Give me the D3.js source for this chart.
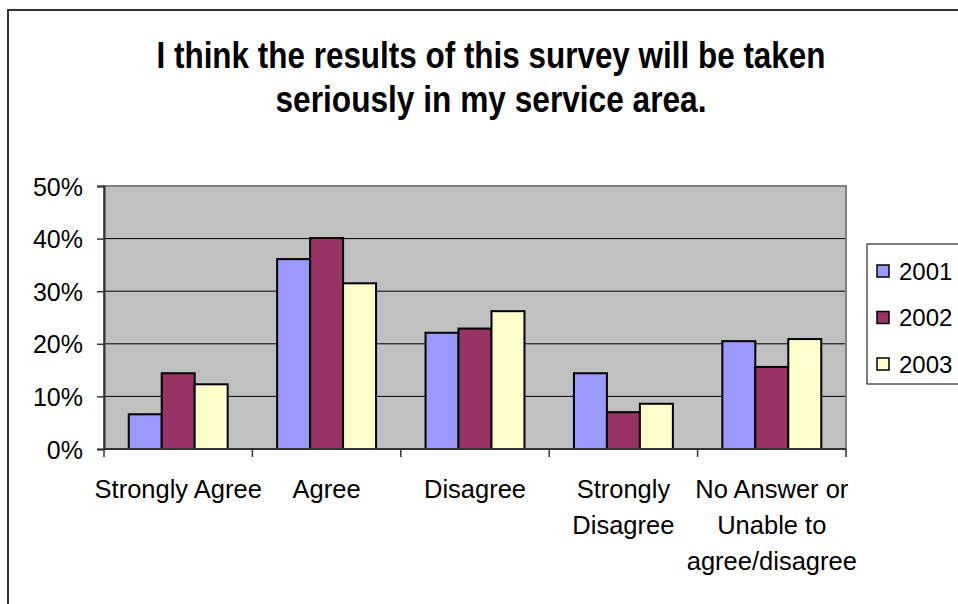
<!DOCTYPE html>
<html>
<head>
<meta charset="utf-8">
<script src="https://cdn.jsdelivr.net/npm/d3@7"></script>
<style>
  html, body { margin: 0; padding: 0; background: #fff; }
  svg { display: block; font-family: "Liberation Sans", Arial, sans-serif; }
</style>
</head>
<body>
<svg id="chart" width="958" height="604"></svg>
<script>
// Survey responses by year (share of respondents)
const titleLines = ["I think the results of this survey will be taken", "seriously in my service area."];
const categories = ["Strongly Agree", "Agree", "Disagree", "Strongly Disagree", "No Answer or Unable to agree/disagree"];
const years = ["2001", "2002", "2003"];
const values2001 = [0.066, 0.361, 0.221, 0.144, 0.205];
const values2002 = [0.144, 0.401, 0.229, 0.070, 0.156];
const values2003 = [0.123, 0.315, 0.262, 0.086, 0.209];
const yTicks = [0, 0.1, 0.2, 0.3, 0.4, 0.5];
const colors = ["#9999FF", "#993366", "#FFFFCC"];

const series = [values2001, values2002, values2003];

const svg = d3.select("#chart");

// Outer chart frame
svg.append("rect")
  .attr("x", 8).attr("y", 10).attr("width", 1000).attr("height", 700)
  .attr("fill", "#fff").attr("stroke", "#333").attr("stroke-width", 2);

// Title (condensed bold)
svg.append("g").selectAll("text").data(titleLines).join("text")
  .attr("x", 491)
  .attr("y", (d, i) => 68 + i * 44)
  .attr("text-anchor", "middle")
  .attr("font-size", 36)
  .attr("font-weight", "bold")
  .attr("fill", "#000")
  .attr("textLength", (d, i) => i === 0 ? 669 : 431)
  .attr("lengthAdjust", "spacingAndGlyphs")
  .text(d => d);

const plot = { left: 104, right: 846, top: 186, bottom: 449 };

const x = d3.scaleBand().domain(categories).range([plot.left, plot.right]);
// Three bars per category with a gap of 1.5 bar widths between groups
const xInner = d3.scaleBand().domain(years).range([0, x.bandwidth()])
  .paddingInner(0).paddingOuter(0.75);
const y = d3.scaleLinear().domain([0, 0.5]).range([plot.bottom, plot.top]);

// Plot area background
svg.append("rect")
  .attr("x", plot.left).attr("y", plot.top)
  .attr("width", plot.right - plot.left).attr("height", plot.bottom - plot.top)
  .attr("fill", "#C0C0C0");

// Horizontal gridlines
svg.append("g").selectAll("line").data(yTicks.filter(t => t > 0 && t < 0.5)).join("line")
  .attr("x1", plot.left).attr("x2", plot.right)
  .attr("y1", d => y(d)).attr("y2", d => y(d))
  .attr("stroke", "#000").attr("stroke-width", 1);

// Plot border
svg.append("rect")
  .attr("x", plot.left).attr("y", plot.top)
  .attr("width", plot.right - plot.left).attr("height", plot.bottom - plot.top)
  .attr("fill", "none").attr("stroke", "#808080").attr("stroke-width", 2);

// Bars
const groups = svg.append("g").selectAll("g").data(categories).join("g")
  .attr("transform", d => `translate(${x(d)},0)`);
groups.selectAll("rect")
  .data((d, ci) => years.map((yr, si) => ({ yr, si, v: series[si][ci] })))
  .join("rect")
  .attr("x", d => xInner(d.yr))
  .attr("width", xInner.bandwidth())
  .attr("y", d => y(d.v))
  .attr("height", d => y(0) - y(d.v))
  .attr("fill", d => colors[d.si])
  .attr("stroke", "#000").attr("stroke-width", 2);

// Y axis
const yAxis = svg.append("g")
  .attr("transform", `translate(${plot.left},0)`)
  .call(d3.axisLeft(y).tickValues(yTicks).tickFormat(d3.format(".0%")).tickSize(7).tickPadding(14));
yAxis.select(".domain").attr("stroke", "#333").attr("stroke-width", 2);
yAxis.selectAll(".tick line").attr("stroke", "#333").attr("stroke-width", 1.5);
yAxis.selectAll(".tick text")
  .attr("font-family", "Liberation Sans, Arial, sans-serif")
  .attr("font-size", 25).attr("fill", "#000").attr("dy", "0.36em");

// X axis with ticks at category boundaries
const xAxisG = svg.append("g").attr("transform", `translate(0,${plot.bottom})`);
xAxisG.append("line")
  .attr("x1", plot.left).attr("x2", plot.right)
  .attr("stroke", "#333").attr("stroke-width", 2);
const boundaries = categories.map(c => x(c)).concat([x(categories[categories.length - 1]) + x.bandwidth()]);
xAxisG.selectAll("line.tk").data(boundaries).join("line").attr("class", "tk")
  .attr("x1", d => d).attr("x2", d => d).attr("y1", 0).attr("y2", 8)
  .attr("stroke", "#333").attr("stroke-width", 1.5);

// Category labels, wrapped to fit
const labelG = svg.append("g");
categories.forEach(cat => {
  const t = labelG.append("text")
    .attr("x", x(cat) + x.bandwidth() / 2)
    .attr("y", 498)
    .attr("text-anchor", "middle")
    .attr("font-size", 25.5)
    .attr("fill", "#000");
  const words = cat.split(" ");
  let lines = [], cur = [];
  words.forEach(w => {
    const test = cur.concat([w]).join(" ");
    t.text(test);
    if (t.node().getComputedTextLength() > 185 && cur.length) {
      lines.push(cur.join(" "));
      cur = [w];
    } else {
      cur.push(w);
    }
  });
  lines.push(cur.join(" "));
  t.text(null);
  lines.forEach((ln, i) => {
    t.append("tspan").attr("x", x(cat) + x.bandwidth() / 2).attr("dy", i === 0 ? 0 : 36).text(ln);
  });
});

// Legend
const legend = svg.append("g");
legend.append("rect")
  .attr("x", 867).attr("y", 244).attr("width", 120).attr("height", 140)
  .attr("fill", "#fff").attr("stroke", "#000").attr("stroke-width", 1);
const li = legend.selectAll("g").data(years).join("g")
  .attr("transform", (d, i) => `translate(877,${271 + i * 46.5})`);
li.append("rect")
  .attr("x", 0).attr("y", -6).attr("width", 12).attr("height", 12)
  .attr("fill", (d, i) => colors[i]).attr("stroke", "#000").attr("stroke-width", 1.5);
li.append("text")
  .attr("x", 22).attr("y", 0).attr("dy", "0.36em")
  .attr("font-size", 24).attr("fill", "#000")
  .text(d => d);
</script>
</body>
</html>
